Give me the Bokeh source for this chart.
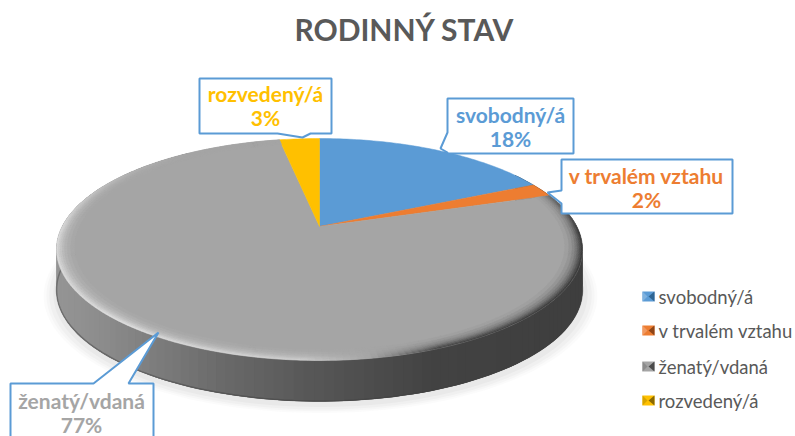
import numpy as np
from bokeh.plotting import figure
from bokeh.embed import file_html
from bokeh.resources import INLINE
from bokeh.core.properties import value

title = "RODINNÝ STAV"
categories = ["svobodný/á", "v trvalém vztahu", "ženatý/vdaná", "rozvedený/á"]
shares = [18, 2, 77, 3]
share_labels = ["18%", "2%", "77%", "3%"]
colors = ["#5B9BD5", "#ED7D31", "#A5A5A5", "#FFC000"]
dark = ["#2f6593", "#8f4517", "#4a4a4a", "#8a6800"]
light = ["#7fb2df", "#f19a62", "#8c8c8c", "#d8a400"]

# projection of the tilted disc onto the page
CX, CY, A, B, K = 319.0, 226.0, 257.3, 106.2, 0.207
DEPTH = 41.0


def rim(frac, r=1.0):
    th = 2 * np.pi * np.asarray(frac, dtype=float)
    X, Y = r * np.sin(th), r * np.cos(th)
    d = 1 + K * Y
    return CX + A * X / d, CY - B * Y / d


def hexc(v):
    v = np.clip(np.round(v), 0, 255).astype(int)
    return "#%02x%02x%02x" % tuple(v)


p = figure(width=795, height=436, x_range=(0, 795), y_range=(436, 0),
           toolbar_location=None, output_backend="svg", min_border=0,
           outline_line_color=None, background_fill_color="white")
p.axis.visible = False
p.grid.visible = False

tot = sum(shares)
edges = np.cumsum([0] + shares) / tot

# soft shadow under the disc
ff = np.linspace(0, 1, 240)
for grow, alpha in [(1.05, 0.035), (1.04, 0.04), (1.03, 0.05), (1.015, 0.06)]:
    x, y = rim(ff, grow)
    p.patch(x + 1, y + DEPTH + 3, fill_color="#808080", fill_alpha=alpha, line_color=None)

# side wall: vertical colour columns, each overlapping the next so no seams show
f2 = np.linspace(0.16, 0.90, 150)
sx, sy = rim(f2)
kx = [50, 100, 160, 220, 300, 370, 430, 590]
kv = [150, 140, 122, 105, 88, 76, 66, 62]
order = np.argsort(-sx)  # right to left
p.patch(np.r_[sx, sx[::-1]], np.r_[sy, sy[::-1] + DEPTH], fill_color="#5a5a5a", line_color=None)
sxs, sys, scs = [], [], []
for i in order:
    j = min(i + 1, len(f2) - 1)
    k = max(i - 1, 0)
    g = np.interp(sx[i], kx, kv)
    sxs.append([sx[k], sx[i], sx[j], sx[j], sx[i], sx[k]])
    sys.append([sy[k], sy[i], sy[j], sy[j] + DEPTH, sy[i] + DEPTH, sy[k] + DEPTH])
    scs.append(hexc(np.array([g, g, g])))
p.patches(sxs, sys, fill_color=scs, line_color=None)
# darker foot of the wall
p.line(sx, sy + DEPTH - 0.5, line_color="#404040", line_alpha=0.45, line_width=1.5)

# top surface: one wedge per share
for i in range(len(shares)):
    arc = np.linspace(edges[i], edges[i + 1], max(6, int(shares[i] * 4)))
    x, y = rim(arc)
    p.patch(np.r_[CX, x], np.r_[CY, y], fill_color=colors[i], line_color=colors[i], line_width=0.5)

# bevel along the rim of the large grey slice
fb = np.linspace(edges[2], edges[3], 220)
radii = [0.935, 0.95, 0.962, 0.972, 0.98, 0.987, 0.994, 1.0]
base = 165.0
bxs, bys, bcs = [], [], []
for j in range(len(radii) - 1):
    t = (j + 1) / (len(radii) - 1)
    x0, y0 = rim(fb, radii[j])
    x1, y1 = rim(fb, radii[j + 1])
    for i in range(len(fb) - 1):
        xm = (x1[i] + x1[i + 1]) / 2
        edge = np.interp(xm, [50, 120, 300, 370, 440, 590], [215, 222, 205, 165, 70, 60])
        strength = np.interp(np.cos(2 * np.pi * fb[i]), [-1, 0.0, 0.55, 0.8], [1, 1, 0.25, 0])
        g = base + (edge - base) * strength * t ** 1.5
        bxs.append([x0[i], x0[i + 1], x1[i + 1], x1[i]])
        bys.append([y0[i], y0[i + 1], y1[i + 1], y1[i]])
        bcs.append(hexc(np.array([g, g, g])))
p.patches(bxs, bys, fill_color=bcs, line_color=bcs, line_width=0.4)

# callouts
callouts = [
    ([447, 447, 440, 447, 447, 573, 573], [98, 132, 148, 152, 153, 153, 98]),
    ([561, 561, 547, 561, 561, 732, 732], [159, 190, 192, 203, 213, 213, 159]),
    ([10, 93, 158, 128, 153, 153, 10], [383, 383, 332, 383, 383, 445, 445]),
    ([199, 199, 277, 302, 310, 331, 331], [78, 133, 133, 137, 133, 133, 78]),
]
label_xy = [(510, 114, 138), (646, 175, 199), (81, 400, 424), (265, 93, 117)]
for i, (cx, cy) in enumerate(callouts):
    p.patch(cx, cy, fill_color="white", line_color="#5B9BD5", line_width=2)
    lx, ly1, ly2 = label_xy[i]
    p.text([lx, lx], [ly1, ly2], text=[categories[i], share_labels[i]],
           text_color=colors[i], text_font=value("Lato"), text_font_style="bold",
           text_font_size="21px", text_align="center", text_baseline="middle")

# title
p.text([404], [28], text=[title], text_color="#595959", text_font=value("Lato"),
       text_font_style="bold", text_font_size="30px", text_align="center",
       text_baseline="middle")

# legend
rows = [296, 330, 366, 400]
for i, ry in enumerate(rows):
    l, r_, t, b = 642, 654, ry - 5, ry + 5
    m = 648
    p.patch([l, r_, r_, l], [t, t, b, b], fill_color=colors[i], line_color=None)
    p.patch([l, m - 1, l], [t, ry, b], fill_color=light[i], line_color=None)
    p.patch([r_, m, r_], [t, ry, b], fill_color=dark[i], line_color=None)

p.text([658] * 4, rows, text=categories, text_color="#595959", text_font=value("Lato"),
       text_font_size="18.5px", text_align="left", text_baseline="middle")

open("out.html", "w").write(file_html(p, INLINE))
